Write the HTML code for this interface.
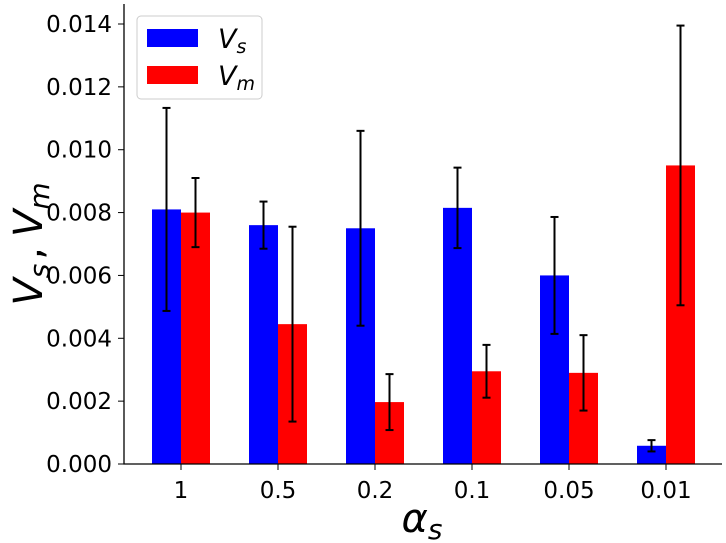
<!DOCTYPE html>
<html><head><meta charset="utf-8"><style>
body{margin:0;background:#fff}
svg{display:block;font-family:"DejaVu Sans","Liberation Sans",sans-serif}
</style></head><body>
<svg id="chart" width="726" height="543"></svg>
<script>
const categories=["1","0.5","0.2","0.1","0.05","0.01"];
const vsValues=[0.0081,0.0076,0.0075,0.00815,0.0060,0.00058];
const vsErrors=[0.00323,0.00075,0.0031,0.00128,0.00186,0.00018];
const vmValues=[0.0080,0.00445,0.00197,0.00295,0.0029,0.0095];
const vmErrors=[0.0011,0.0031,0.00089,0.00084,0.0012,0.00445];
const yTicks=[0,0.002,0.004,0.006,0.008,0.010,0.012,0.014];
const NS="http://www.w3.org/2000/svg";
const svg=document.getElementById('chart');
const x0=124,yBase=464,yTop=24,xStart=181,step=97,bw=29;
function yS(v){return yBase-(v/0.014)*(yBase-yTop);}
function xS(i){return xStart+i*step;}
function mk(t,a,p){const e=document.createElementNS(NS,t);for(const k in a)e.setAttribute(k,a[k]);(p||svg).appendChild(e);return e;}
const g=mk('g',{});


categories.forEach((c,i)=>{
  const cx=xS(i);
  const b1=mk('rect',{x:cx-bw,y:yS(vsValues[i]),width:bw,height:yBase-yS(vsValues[i]),fill:'#0000ff'},g);
  
  
  const b2=mk('rect',{x:cx,y:yS(vmValues[i]),width:bw,height:yBase-yS(vmValues[i]),fill:'#ff0000'},g);
  
  
  [[cx-bw/2,vsValues[i],vsErrors[i],'vs'],[cx+bw/2,vmValues[i],vmErrors[i],'vm']].forEach(([ex,v,e,n])=>{
    const eg=mk('g',{stroke:'#000','stroke-width':2},g);
    
    
    mk('line',{x1:ex,x2:ex,y1:yS(v-e),y2:yS(v+e)},eg);
    mk('line',{x1:ex-4,x2:ex+4,y1:yS(v-e),y2:yS(v-e)},eg);
    mk('line',{x1:ex-4,x2:ex+4,y1:yS(v+e),y2:yS(v+e)},eg);
  });
  const tk=mk('line',{x1:cx,x2:cx,y1:yBase,y2:yBase+6,stroke:'#000','stroke-width':1});
  
  
  const tl=mk('text',{x:cx,y:yBase+34,'text-anchor':'middle','font-size':23,fill:'#000'});
  tl.textContent=c;
  
  
});
yTicks.forEach(v=>{
  const y=yS(v);
  const tk=mk('line',{x1:x0-6,x2:x0,y1:y,y2:y,stroke:'#000','stroke-width':1});
  
  
  const tl=mk('text',{x:x0-12,y:y+8,'text-anchor':'end','font-size':23,fill:'#000'});
  tl.textContent=v.toFixed(3);
  
  
});
const ax=mk('path',{d:`M${x0},4 V${yBase} H722`,fill:'none',stroke:'#000','stroke-width':1.3});


const xl=mk('text',{x:422,y:532,'text-anchor':'middle','font-size':40,'font-style':'italic',fill:'#000'});
xl.innerHTML='α<tspan font-size="28" dy="7">s</tspan>';


const yl=mk('text',{x:0,y:0,'text-anchor':'middle','font-size':40,'font-style':'italic',fill:'#000',transform:'translate(42,244) rotate(-90)'});
yl.innerHTML='V<tspan font-size="28" dy="7">s</tspan><tspan dy="-7" dx="4" font-style="normal">,</tspan><tspan dx="10">V</tspan><tspan font-size="28" dy="7">m</tspan>';


const lg=mk('g',{});


mk('rect',{x:137,y:16,width:125,height:83,rx:4,fill:'#fff',stroke:'#ccc'},lg);
mk('rect',{x:147,y:29,width:51,height:18,fill:'#0000ff'},lg);
mk('rect',{x:147,y:66,width:51,height:18,fill:'#ff0000'},lg);
const l1=mk('text',{x:218,y:48,'font-size':27,'font-style':'italic'},lg);
l1.innerHTML='V<tspan font-size="19" dy="5">s</tspan>';


const l2=mk('text',{x:218,y:85,'font-size':27,'font-style':'italic'},lg);
l2.innerHTML='V<tspan font-size="19" dy="5">m</tspan>';


</script>
</body></html>
